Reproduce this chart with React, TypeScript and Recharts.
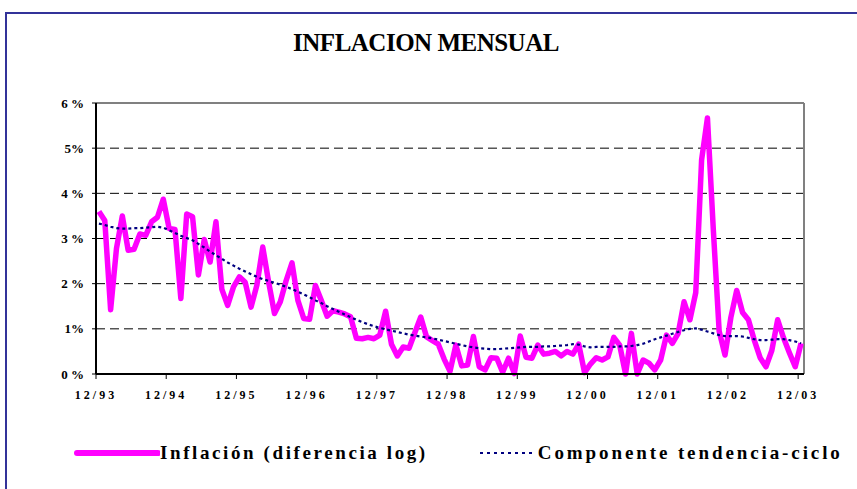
import { LineChart, Line, XAxis, YAxis, CartesianGrid, ReferenceLine, Legend } from 'recharts';

// monthly inflation, 12/93 .. 12/03 (percent)
const INFLATION = [
  3.6, 3.4, 1.42, 2.78, 3.5, 2.74, 2.76, 3.1, 3.07, 3.37, 3.47, 3.87,
  3.22, 3.2, 1.67, 3.54, 3.48, 2.19, 2.98, 2.48, 3.37, 1.88, 1.52, 1.93,
  2.15, 2.03, 1.48, 1.97, 2.81, 2.04, 1.34, 1.6, 2.07, 2.46, 1.63, 1.23,
  1.21, 1.96, 1.63, 1.28, 1.4, 1.37, 1.33, 1.27, 0.79, 0.78, 0.81, 0.78,
  0.86, 1.39, 0.66, 0.4, 0.6, 0.57, 0.92, 1.26, 0.82, 0.74, 0.66, 0.33,
  0.06, 0.64, 0.18, 0.2, 0.83, 0.16, 0.09, 0.36, 0.35, 0.04, 0.35, 0.01,
  0.84, 0.37, 0.35, 0.64, 0.44, 0.46, 0.5, 0.4, 0.5, 0.44, 0.66, 0.03,
  0.22, 0.36, 0.31, 0.38, 0.81, 0.64, 0.0, 0.9, 0.0, 0.31, 0.24, 0.09,
  0.31, 0.86, 0.68, 0.9, 1.6, 1.2, 1.8, 4.74, 5.67, 3.2, 0.95, 0.42,
  1.25, 1.85, 1.36, 1.2, 0.75, 0.36, 0.16, 0.52, 1.2, 0.8, 0.47, 0.16,
  0.68,
];

// trend-cycle component
const TREND = [
  3.33, 3.3, 3.26, 3.23, 3.22, 3.22, 3.23, 3.23, 3.24, 3.25, 3.26, 3.24,
  3.18, 3.12, 3.06, 3.01, 2.96, 2.88, 2.8, 2.71, 2.63, 2.55, 2.47, 2.4,
  2.33, 2.27, 2.21, 2.15, 2.1, 2.06, 2.02, 1.98, 1.93, 1.88, 1.82, 1.76,
  1.7, 1.63, 1.57, 1.5, 1.44, 1.38, 1.32, 1.26, 1.2, 1.15, 1.1, 1.06,
  1.02, 0.99, 0.96, 0.93, 0.9, 0.87, 0.85, 0.83, 0.81, 0.79, 0.76, 0.73,
  0.7, 0.67, 0.64, 0.61, 0.59, 0.57, 0.56, 0.55, 0.55, 0.56, 0.57, 0.58,
  0.59, 0.6, 0.6, 0.6, 0.61, 0.61, 0.62, 0.63, 0.64, 0.66, 0.65, 0.61,
  0.59, 0.6, 0.6, 0.6, 0.6, 0.61, 0.61, 0.62, 0.64, 0.67, 0.72, 0.77,
  0.81, 0.85, 0.89, 0.93, 0.97, 1.0, 1.01, 0.98, 0.94, 0.9, 0.86, 0.84,
  0.84, 0.84, 0.83, 0.8, 0.77, 0.75, 0.75, 0.76, 0.77, 0.77, 0.75, 0.72,
  0.68,
];

const X_TICKS = [0, 12, 24, 36, 48, 60, 72, 84, 96, 108, 120];
const X_LABELS = ['12/93', '12/94', '12/95', '12/96', '12/97', '12/98', '12/99', '12/00', '12/01', '12/02', '12/03'];
const Y_TICKS = [0, 1, 2, 3, 4, 5, 6];
const Y_LABELS = ['0 %', '1%', '2 %', '3 %', '4 %', '5%', '6 %'];

const SERIF = '"Liberation Serif", "Times New Roman", serif';

const data = INFLATION.map((v, i) => ({ x: i + 0.5, infl: v, trend: TREND[i] }));

function LegendBox() {
  return (
    <div style={{ display: 'flex', alignItems: 'center', fontFamily: SERIF, fontWeight: 700, fontSize: 19, color: '#000' }}>
      <svg width={86} height={10}>
        <line x1={3} y1={5} x2={84} y2={5} stroke="#FF00FF" strokeWidth={6} strokeLinecap="round" />
      </svg>
      <span style={{ letterSpacing: 2.6, marginRight: 50 }}>Inflación (diferencia log)</span>
      <svg width={56} height={10}>
        <line x1={2} y1={5} x2={54} y2={5} stroke="#000080" strokeWidth={2.2} strokeDasharray="3 4" />
      </svg>
      <span style={{ letterSpacing: 2.9, marginLeft: 4 }}>Componente tendencia-ciclo</span>
    </div>
  );
}

export default function App() {
  return (
    <div style={{ position: 'absolute', left: 0, top: 0, width: 857, height: 489, overflow: 'hidden', background: '#fff' }}>
      <div
        style={{
          position: 'absolute', left: 5, top: 12, width: 900, height: 600,
          borderLeft: '2px solid #333399', borderTop: '2px solid #333399',
        }}
      />
      <div
        style={{
          position: 'absolute', left: 0, top: 29, width: 852, textAlign: 'center',
          fontFamily: SERIF, fontWeight: 700, fontSize: 25, letterSpacing: -0.5, color: '#000',
        }}
      >
        INFLACION MENSUAL
      </div>
      <div style={{ position: 'absolute', left: 0, top: 0 }}>
        <LineChart width={857} height={489} data={data} margin={{ top: 103, right: 53, bottom: 85, left: 36 }}>
          <CartesianGrid vertical={false} stroke="#000" strokeDasharray="9 5" />
          <XAxis
            type="number"
            dataKey="x"
            domain={[0, 121]}
            ticks={X_TICKS}
            tickFormatter={(v: number) => X_LABELS[X_TICKS.indexOf(v)]}
            height={30}
            tickSize={5}
            tickMargin={11}
            axisLine={{ stroke: '#000', strokeWidth: 2 }}
            tickLine={{ stroke: '#000', strokeWidth: 1 }}
            tick={{ fontFamily: SERIF, fontWeight: 700, fontSize: 12, fill: '#000', letterSpacing: 3 }}
          />
          <YAxis
            type="number"
            domain={[0, 6]}
            ticks={Y_TICKS}
            tickFormatter={(v: number) => Y_LABELS[v]}
            width={60}
            tickSize={4}
            tickMargin={8}
            axisLine={{ stroke: '#000', strokeWidth: 2 }}
            tickLine={{ stroke: '#000', strokeWidth: 1 }}
            tick={{ fontFamily: SERIF, fontWeight: 700, fontSize: 13, fill: '#000' }}
          />
          <ReferenceLine y={6} stroke="#808080" strokeWidth={2} />
          <ReferenceLine x={121} stroke="#808080" strokeWidth={2} />
          <Line
            type="linear"
            dataKey="infl"
            stroke="#FF00FF"
            strokeWidth={5.5}
            strokeLinejoin="round"
            dot={false}
            isAnimationActive={false}
          />
          <Line
            type="linear"
            dataKey="trend"
            stroke="#000080"
            strokeWidth={2.2}
            strokeDasharray="3 3"
            dot={false}
            isAnimationActive={false}
          />
          <Legend
            layout="horizontal"
            verticalAlign="middle"
            align="center"
            content={() => <LegendBox />}
            wrapperStyle={{ position: 'absolute', left: 74, top: 442, width: 820 }}
          />
        </LineChart>
      </div>
    </div>
  );
}
